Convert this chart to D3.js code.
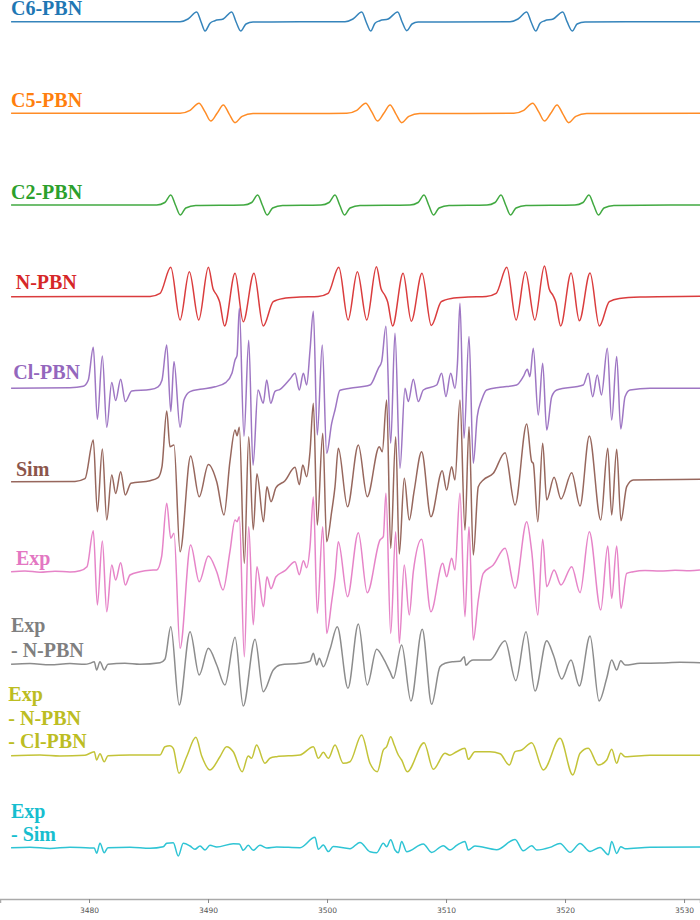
<!DOCTYPE html>
<html><head><meta charset="utf-8">
<script src="https://cdn.jsdelivr.net/npm/d3@7"></script>
<style>html,body{margin:0;padding:0;background:#fff}</style>
</head><body><svg id="c" width="700" height="920"></svg>
<script>
// Magnetic field ticks (G)
const fieldTicks = [3480, 3490, 3500, 3510, 3520, 3530];

// Each spectrum: [field (G), intensity (a.u.)]
const c6pbn = [
[3473.45,0],[3487.65,0],[3488.32,2.7],[3489.05,9.7],[3489.41,0],[3489.75,-9.3],[3490.17,-1.5],[3490.58,1],[3491.28,2.7],[3491.99,9.7],[3492.35,0],[3492.75,-9.3],[3493.19,-2.3],[3493.78,-0.3],
[3501.51,0],[3502.18,2.7],[3502.92,9.7],[3503.28,0],[3503.67,-9.3],[3504.03,-1.5],[3504.44,1],[3505.14,2.7],[3505.94,9.7],[3506.30,0],[3506.70,-9],[3507.14,-2.3],[3507.65,-0.3],
[3515.38,0],[3516.05,2.7],[3516.78,9.7],[3517.14,0],[3517.54,-9.3],[3517.90,-1.5],[3518.30,1],[3519.00,2.7],[3519.81,9.7],[3520.17,0],[3520.61,-9.3],[3521.01,-2.3],[3521.68,-0.3],[3531.34,0]];

const c5pbn = [
[3473.45,0],[3487.65,0],[3488.49,3],[3489.24,10],[3489.75,1.5],[3490.23,-7.7],[3490.76,0],[3491.29,8.3],[3491.77,-0.5],[3492.27,-9.4],[3492.86,-3],[3493.78,-0.3],
[3501.66,0],[3502.50,3],[3503.25,10],[3503.76,1.5],[3504.24,-7.7],[3504.77,0],[3505.30,8.3],[3505.78,-0.5],[3506.28,-9.4],[3506.87,-3],[3507.79,-0.3],
[3515.69,0],[3516.53,3],[3517.28,10],[3517.79,1.5],[3518.27,-7.7],[3518.80,0],[3519.33,8.3],[3519.81,-0.5],[3520.31,-9.4],[3520.90,-3],[3521.82,-0.3],[3531.34,0]];

const c2pbn = [
[3473.45,0],
[3485.69,0],[3486.37,2.5],[3486.87,10],[3487.26,0],[3487.67,-10],[3488.13,-3],[3488.97,-0.5],
[3492.99,0],[3493.67,2.5],[3494.17,10],[3494.56,0],[3494.97,-10],[3495.43,-3],[3496.27,-0.5],
[3499.49,0],[3500.17,2.5],[3500.67,10],[3501.06,0],[3501.47,-10],[3501.93,-3],[3502.77,-0.5],
[3506.97,0],[3507.65,2.5],[3508.15,10],[3508.54,0],[3508.95,-10],[3509.41,-3],[3510.25,-0.5],
[3513.44,0],[3514.12,2.5],[3514.62,10],[3515.01,0],[3515.42,-10],[3515.88,-3],[3516.72,-0.5],
[3520.83,0],[3521.51,2.5],[3522.01,10],[3522.40,0],[3522.81,-10],[3523.27,-3],[3524.11,-0.5],
[3531.34,0]];

const npbn = [
[3473.45,0],[3485.13,0.3],[3485.97,3.4],[3486.87,29.4],[3487.65,-23.3],[3488.43,25],[3489.22,-23.3],[3490.03,29.4],[3490.42,8],[3490.76,1],[3490.97,-5],[3491.39,-29.3],[3492.27,23.4],[3492.96,-25],[3493.86,23.4],[3494.64,-29.3],[3495.48,-5],[3496.32,-1.7],[3497.73,-0.3],
[3499.25,0.3],[3500.09,3.4],[3500.99,29.4],[3501.77,-23.3],[3502.55,25],[3503.34,-23.3],[3504.15,29.9],[3504.54,8],[3504.88,1],[3505.09,-5],[3505.51,-29.3],[3506.39,23.4],[3507.08,-24.5],[3507.98,23.4],[3508.76,-28.8],[3509.60,-5],[3510.44,-1.7],[3511.85,-0.3],
[3513.37,0.3],[3514.21,3.4],[3515.11,29.4],[3515.89,-23.3],[3516.67,25],[3517.46,-23.3],[3518.27,30.7],[3518.66,8],[3519.00,1],[3519.21,-5],[3519.63,-29.3],[3520.51,23.7],[3521.20,-24],[3522.10,23.7],[3522.88,-29.3],[3523.72,-5],[3524.56,-1.7],[3526.30,-0.3],[3531.34,0.5]];

const clpbn = [
[3473.45,0],[3478.40,0.5],[3479.52,2],[3479.94,8.3],[3480.36,41],[3480.70,-31],[3481.12,32.3],[3481.49,-39],[3481.91,5.7],[3482.24,-12.3],[3482.66,9],[3483.05,-13.3],[3483.59,-2.7],[3485.13,-1.3],[3485.80,1.5],[3486.13,8],
[3486.53,43.3],[3486.87,-23.3],[3487.14,26.7],[3487.65,-39],[3487.98,-11.7],[3488.49,-3.3],[3489.33,-1],[3490.59,1.5],[3491.51,6],[3492.01,15],[3492.27,28.3],[3492.44,33],
[3492.63,80],[3493.02,-48],[3493.42,48],[3493.78,-77],[3494.20,-1.7],[3494.64,-15],[3494.93,8.3],[3495.27,-15],[3495.63,-3],[3496.05,-1],[3496.89,9.3],[3497.31,15],[3497.67,-1.7],[3498.01,15],[3498.29,3.3],[3498.57,38],
[3498.85,77],[3499.18,-46.7],[3499.60,43.3],[3499.97,-65],[3500.39,-35],[3500.67,-21.7],[3501.09,-2],[3501.93,0],[3503.61,3.3],[3504.31,20],[3504.59,26.7],
[3504.95,62],[3505.35,-55],[3505.71,55],[3506.13,-80],[3506.55,0],[3506.83,-13.3],[3507.25,9],[3507.67,-13.3],[3508.09,-1.7],[3509.21,3.3],[3509.63,15],[3509.99,-8.3],[3510.39,15],[3510.75,0],[3510.96,25],
[3511.17,85],[3511.51,-50],[3511.93,51.7],[3512.29,-75],[3512.62,-28.4],[3512.99,-11.7],[3513.41,-1.7],[3514.54,1],[3515.93,3.3],[3516.49,11.6],[3516.83,19],[3517.05,11.6],
[3517.33,40],[3517.75,-26.7],[3518.12,25],[3518.46,-41.7],[3518.88,-8.4],[3519.30,-1.7],[3521.53,3.3],[3521.95,15],[3522.32,-8.4],[3522.71,13.3],[3523.06,-6.7],
[3523.55,40],[3523.92,-31.7],[3524.34,31.7],[3524.68,-40.7],[3525.04,-8.4],[3525.46,-1.7],[3527.14,0],[3531.34,0]];

const sim = [
[3473.45,0],[3478.82,0.3],[3479.66,3],[3480.36,41.7],[3480.70,-30],[3481.12,32.7],[3481.49,-38.3],[3481.91,6.7],[3482.24,-11.7],[3482.66,10],[3483.05,-13.3],[3483.52,-1.5],[3485.13,1],[3485.80,4],[3486.13,15],
[3486.53,70.7],[3486.80,35],[3487.14,36.7],[3487.65,-70],[3488.54,25.7],[3489.26,-15],[3490.03,17.3],[3490.73,0],[3491.34,-33.3],[3491.84,20],[3492.27,51.7],[3492.44,46],[3492.63,54.4],
[3493.05,-81.7],[3493.42,45],[3493.80,-48],[3494.11,8],[3494.66,-40],[3494.95,-5],[3495.29,-20],[3495.71,-6],[3496.47,1],[3497.31,14.4],[3497.67,-3],[3497.96,16.7],[3498.29,5],[3498.57,30],
[3498.85,78.4],[3499.18,-43.3],[3499.64,48.4],[3499.97,-60],[3500.39,-30],[3500.67,-5],[3500.95,33.4],[3501.72,-25],[3502.63,36.7],[3503.38,-15],[3504.39,35],[3504.64,30],
[3505.01,81.7],[3505.35,-66.6],[3505.77,45],[3506.07,-72.3],[3506.49,3.4],[3506.91,-38.3],[3507.31,-10],[3507.95,30],[3508.73,-35],[3509.68,11],[3510.05,-8.3],[3510.47,15],[3510.75,1.7],
[3511.17,81.7],[3511.59,-48.3],[3511.93,55],[3512.29,-73.3],[3512.71,-5],[3513.13,1.7],[3513.97,8.4],[3514.96,29],[3515.80,-23.3],[3516.78,57.7],[3517.20,20],[3517.33,18.4],
[3517.71,-40],[3518.12,38.4],[3518.46,-18.3],[3519.08,4.4],[3519.66,-17.3],[3520.56,9],[3521.26,-24.3],[3522.04,45.7],[3523.00,-38.3],[3523.59,33.4],[3523.92,-33.3],[3524.34,32.4],[3524.70,-39],[3525.18,-5],[3525.74,1.7],[3531.34,2.4]];

const exp = [
[3473.45,0],[3474.62,0.7],[3475.88,-0.5],[3477.14,0.5],[3478.40,-0.3],[3479.24,1],[3479.83,5],[3480.36,41],[3480.70,-33.3],[3481.12,30.7],[3481.49,-40],[3481.91,6.7],[3482.24,-8.3],[3482.66,9],[3483.05,-13.3],[3483.44,-3.3],[3484.28,0],[3485.13,1.5],[3485.69,1.7],[3486.10,15],
[3486.53,68.4],[3486.87,33.4],[3487.14,38.4],[3487.65,-76.6],[3488.54,26.7],[3489.26,-10],[3490.03,15.7],[3490.73,0],[3491.26,-18.3],[3491.84,20],[3492.27,51.7],[3492.44,50],[3492.63,55],
[3493.05,-85],[3493.42,45],[3493.80,-53],[3494.11,5],[3494.66,-35],[3494.95,-5],[3495.29,-17],[3495.71,-5],[3496.47,1],[3497.31,10],[3497.67,-3],[3498.01,11],[3498.29,4],[3498.57,25],
[3498.85,75],[3499.18,-41.7],[3499.64,45],[3499.97,-61.7],[3500.39,-30],[3500.67,-5],[3500.95,30],[3501.72,-25],[3502.63,39],[3503.38,-21],[3504.45,31.7],[3504.73,35],
[3504.95,78.4],[3505.35,-61.7],[3505.77,40],[3506.07,-71.6],[3506.49,6.7],[3506.91,-43.3],[3507.25,0],[3507.95,32.4],[3508.73,-40],[3509.72,8.4],[3510.05,-5],[3510.47,13.4],[3510.75,1.7],
[3511.17,78.4],[3511.59,-45],[3511.93,45],[3512.29,-68.3],[3512.71,-28.3],[3513.13,-1.7],[3513.97,6.7],[3514.96,23.4],[3515.80,-16.6],[3516.78,50],[3517.20,20],
[3517.71,-43.3],[3518.12,32.4],[3518.46,-15],[3519.08,1.7],[3519.66,-13.3],[3520.56,5],[3521.26,-21],[3522.04,40],[3523.00,-38.3],[3523.59,25.7],[3523.92,-26.6],[3524.34,25.7],[3524.70,-36.6],[3525.18,-1.7],[3525.74,0],[3526.72,1.2],[3527.98,0.6],[3529.24,1.5],[3530.50,1],[3531.34,1.7]];

const expMinusN = [
[3473.45,0],[3475.04,0.8],[3476.72,-0.5],[3478.40,0.7],[3479.66,0],[3480.08,1],[3480.44,2.6],[3480.64,-5.7],[3480.92,2.6],[3481.28,-5.7],[3481.59,0],[3483.02,1],[3484.28,0],[3485.97,1.5],[3486.38,5],
[3486.87,37.6],[3487.58,-40.7],[3488.49,32.6],[3489.26,-10.7],[3490.03,16],[3490.73,-0.7],[3491.42,-20.7],[3492.27,27],[3492.96,-41.7],[3493.95,25],[3494.64,-27.4],[3495.48,-5.7],[3496.05,-0.7],[3497.73,1],
[3498.57,3],[3498.85,11],[3499.13,-0.7],[3499.35,6],[3499.69,-2.4],[3500.25,15],[3500.86,37.6],[3501.76,-24],[3502.63,40.3],[3503.38,-20.7],[3504.17,15],[3504.73,6],[3505.29,-7.4],[3505.57,-14],
[3506.27,19.3],[3507.05,-36.7],[3508.00,35],[3508.79,-40],[3509.49,-2.4],[3509.91,1],[3510.61,2.6],[3511.17,3],[3511.53,7.6],[3511.67,-1],[3512.01,3],[3512.29,4.3],[3513.69,4.3],
[3514.96,23.6],[3515.86,-16.4],[3516.72,32.6],[3517.48,-26.7],[3518.46,23.6],[3519.02,9.3],[3519.72,-14.7],[3520.50,4.3],[3521.20,-21.7],[3522.10,28.3],[3522.86,-36.7],[3523.50,-14],[3523.92,4.3],[3524.34,-5.7],[3524.68,3.6],[3525.04,-0.7],[3526.30,1],[3527.98,1.3],[3529.66,2],[3531.34,1.6]];

const expMinusNCl = [
[3473.45,0],[3475.88,0.6],[3477.56,-0.4],[3479.66,0.4],[3480.44,4],[3480.64,-4.3],[3480.92,2],[3481.28,-6],[3481.59,0],[3483.44,0.7],[3485.97,0.7],[3486.38,9],[3486.80,10],[3487.08,7.4],[3487.56,-17.6],[3488.20,-1],
[3488.98,18.4],[3489.46,0],[3490.16,-14.3],[3491.00,-1],[3491.56,9],[3492.12,4],[3492.87,-16],[3493.38,-0.3],[3493.66,-2.5],[3494.08,10.7],[3494.78,-7.6],[3495.20,-2.5],[3495.76,-1],[3497.73,0.7],
[3498.85,9],[3499.27,-2.6],[3499.69,3.4],[3500.11,-2.6],[3500.67,10.7],[3501.36,-7.6],[3501.93,-6],[3502.91,20.7],[3503.61,-7.6],[3504.22,-16],[3504.73,5.7],[3505.01,9],[3505.35,19],[3505.65,10.7],[3505.99,0.7],[3506.27,-4.3],[3506.74,-16],
[3508.15,13],[3508.93,-13.6],[3509.91,2.4],[3510.33,0.5],[3510.89,4],[3511.59,7.4],[3511.87,-3.6],[3512.43,4],[3513.69,4],[3514.54,2],[3515.32,-9.3],[3515.80,4],[3516.36,5.7],[3517.20,13],[3518.18,-14.3],
[3519.58,17.4],[3520.65,-19.3],[3521.26,2.4],[3521.95,7.4],[3522.80,-9.3],[3523.50,-4.3],[3523.92,6.4],[3524.34,-7.6],[3524.68,2.4],[3525.04,-1],[3527.14,0.5],[3531.34,0.4]];

const expMinusSim = [
[3473.45,0],[3475.04,0.5],[3476.72,-0.7],[3478.40,0.5],[3480.08,-0.3],[3480.44,-0.3],[3480.64,-5.6],[3480.92,4.4],[3481.28,-5],[3481.59,0],[3483.44,0.5],[3485.13,-0.5],[3486.24,1],[3486.53,4.4],[3487.08,5],[3487.50,-8.3],[3487.92,4.4],
[3488.49,1.7],[3488.90,-1.6],[3489.33,1.7],[3489.75,-2.3],[3490.16,2.4],[3490.73,0.7],[3492.12,4],[3492.63,3.7],[3492.96,-2.6],[3493.38,2.4],[3493.80,-2.6],[3494.36,2.4],[3494.93,-0.3],[3495.76,0.7],[3497.73,0],
[3498.99,10.4],[3499.27,-1.6],[3499.69,2.7],[3500.11,-3.9],[3500.52,1.2],[3501.93,-1],[3502.77,5.3],[3503.61,-4],[3504.17,-5],[3504.73,4.4],[3505.01,1],[3505.35,8],[3505.71,-2.3],[3505.99,-5],[3506.27,6.3],[3506.69,-4],
[3508.09,3.7],[3508.79,-4.7],[3509.77,2],[3510.33,-2.3],[3510.89,2.3],[3511.59,6.3],[3511.87,-2.3],[3512.43,1.7],[3514.25,-2],[3515.80,8.3],[3516.49,-3],[3517.20,2],[3517.62,-2.3],[3518.73,0.3],
[3519.58,4.3],[3520.42,-4.6],[3521.26,4.3],[3522.10,-3.7],[3522.94,0.3],[3523.64,-7],[3523.92,6.3],[3524.34,-5.7],[3524.68,1],[3525.04,-1],[3527.14,0.5],[3531.34,0.7]];

const spectra = [c6pbn, c5pbn, c2pbn, npbn, clpbn, sim, exp, expMinusN, expMinusNCl, expMinusSim];
const labels = [["C6-PBN"],["C5-PBN"],["C2-PBN"],["N-PBN"],["Cl-PBN"],["Sim"],["Exp"],["Exp","- N-PBN"],["Exp","- N-PBN","- Cl-PBN"],["Exp","- Sim"]];
const colors = ["#1f77b4","#ff7f0e","#2ca02c","#d62728","#9467bd","#8c564b","#e377c2","#7f7f7f","#bcbd22","#17becf"];

// layout (pixels)
const baselines = [21.7,113.3,205,296.7,388.3,481.7,571.7,664.3,755.7,847.7];
const labelX = [11,11,11,15.7,13.3,16,16,11,8.3,11];
const labelY = [15,106.7,199,289.3,379.3,475.7,565,632.3,701,817.7];
const labelLine = [0,0,0,0,0,0,0,25,23.7,23.3];

const W = 700, H = 920;
const svg = d3.select("#c");
const x = d3.scaleLinear().domain([3472.52, 3531.34]).range([0, W]);

spectra.forEach((data, i) => {
  const y = d3.scaleLinear().domain([0, 100]).range([baselines[i], baselines[i] - 100]);
  const line = d3.line().x(d => x(d[0])).y(d => y(d[1])).curve(d3.curveMonotoneX);
  svg.append("path").datum(data).attr("d", line)
    .attr("fill", "none").attr("stroke", colors[i]).attr("stroke-width", 1.5)
    .attr("stroke-linejoin", "round").attr("opacity", 0.9);
  const t = svg.append("text").attr("x", labelX[i]).attr("y", labelY[i])
    .attr("fill", colors[i]).attr("font-family", "'Liberation Serif', 'Times New Roman', serif")
    .attr("font-weight", "bold").attr("font-size", 20);
  labels[i].forEach((s, k) => {
    t.append("tspan").attr("x", labelX[i]).attr("y", labelY[i] + k * labelLine[i]).text(s);
  });
});

const axis = d3.axisBottom(x).tickValues(fieldTicks).tickSize(4).tickFormat(d3.format("d"));
const gA = svg.append("g").attr("transform", "translate(0,899)").call(axis);
gA.select(".domain").attr("stroke", "#aaa").attr("stroke-width", 1.5);
gA.selectAll(".tick line").attr("stroke", "#888");
gA.selectAll(".tick text").attr("fill", "#555").attr("font-size", 7.5)
  .attr("font-family", "'DejaVu Sans', sans-serif").attr("dy", "0.9em");
</script>
</body></html>
